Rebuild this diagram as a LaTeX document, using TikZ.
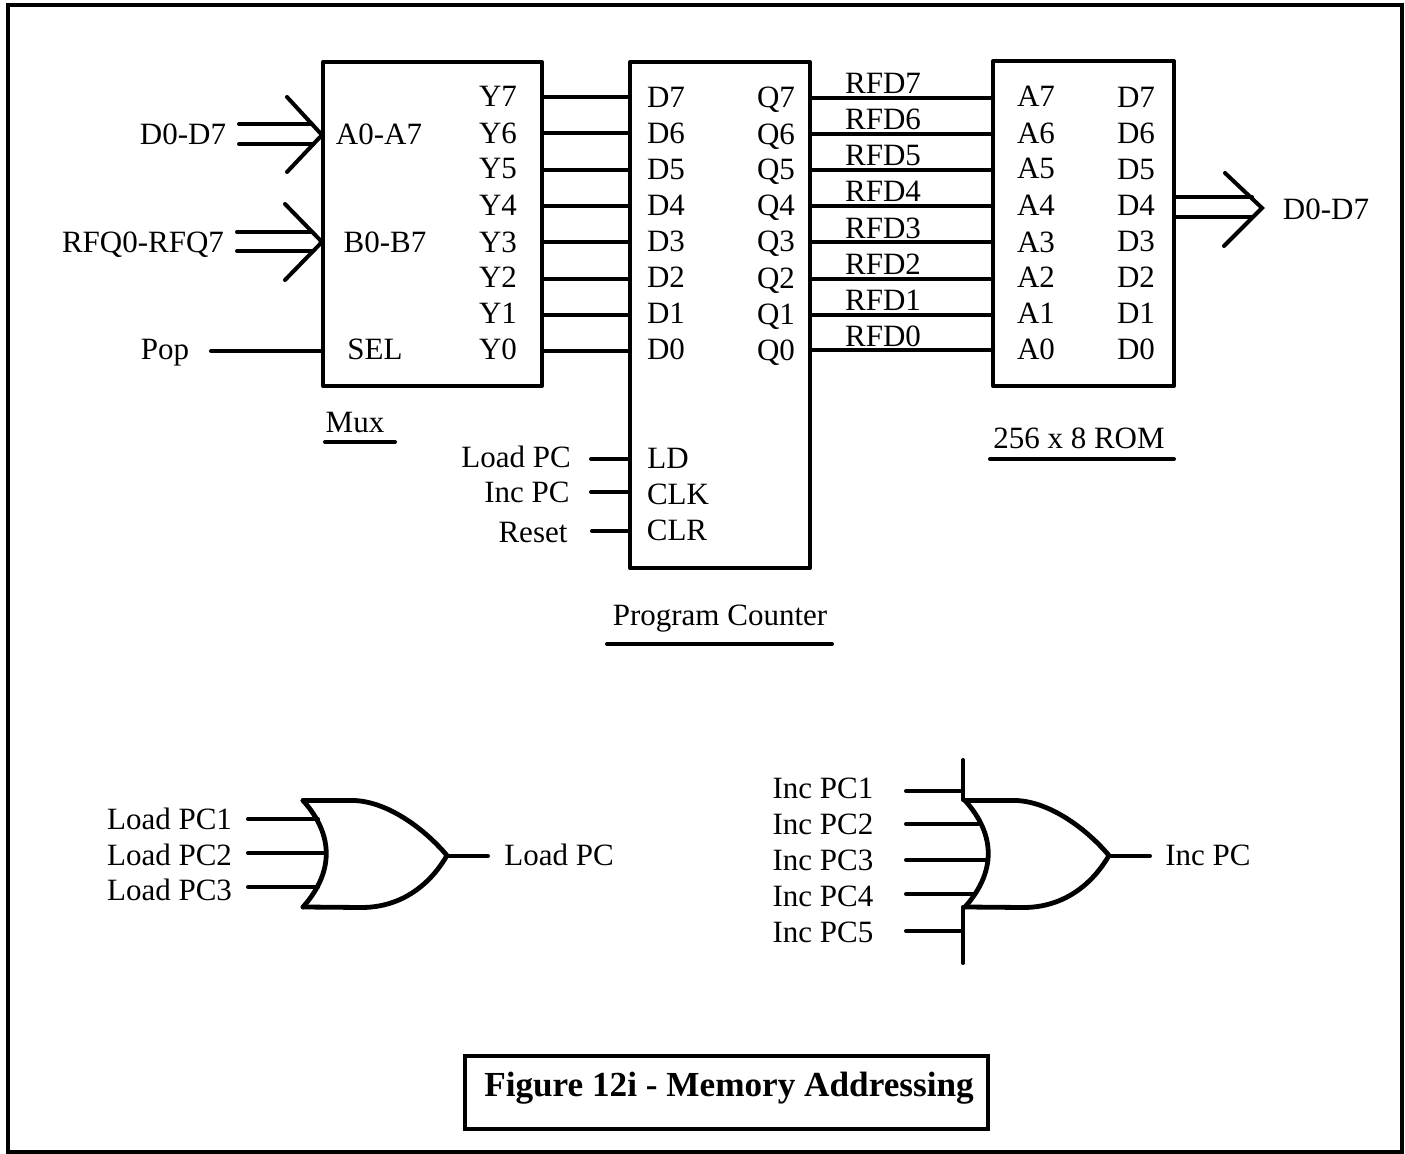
\documentclass[tikz,border=0pt]{standalone}
\usepackage{fontspec}
\setmainfont{Liberation Serif}
\tikzset{
  wire/.style = {line width=2pt,line cap=round},
  gateline/.style = {line width=2.4pt,line cap=round,line join=round},
  chip/.style = {draw,line width=2pt,line join=round,inner sep=0pt,outer sep=0pt},
  lbl/.style = {inner sep=0pt,outer sep=0pt,text height=10.2pt,text depth=0pt,font=\fontsize{15.5}{18}\selectfont}
}

\begin{document}
\begin{tikzpicture}[x=0.5pt,y=-0.5pt]
  \useasboundingbox (0,0) rectangle (1405,1154);
  \draw[line width=2pt] (8,5) rectangle (1402,1152);
  % the three boxes
  \node[chip,minimum width=109.5pt,minimum height=162pt] (mux) at (432.5,224) {};
  \node[chip,minimum width=90pt,minimum height=253pt] (pc) at (720,315) {};
  \node[chip,minimum width=90.5pt,minimum height=162.5pt] (rom) at (1083.5,223.5) {};
  % pins
  \foreach \n/\Y/\Q in {7/97/98,6/133/134,5/170/170,4/206/206,3/242/242,2/279/279,1/315/315,0/351/350} {
    \coordinate (yout\n) at (542,\Y);
    \coordinate (dpin\n) at (630,\Y);
    \coordinate (qout\n) at (810,\Q);
    \coordinate (apin\n) at (993,\Q);
    \draw[wire] (yout\n) -- (dpin\n);
    \draw[wire] (qout\n) -- (apin\n);
  }
  \foreach \n/\Y in {7/96,6/133,5/168,4/205,3/242,2/277,1/313,0/349} {
    \node[lbl] (ylab\n) at (498,\Y) {Y\n};
    \node[lbl] (alab\n) at (1036,\Y) {A\n};
  }
  \foreach \n/\Y/\Z in {7/97/97,6/133/134,5/169/169,4/205/205,3/241/241,2/277/278,1/313/314,0/349/350} {
    \node[lbl] (dlab\n) at (666,\Y) {D\n};
    \node[lbl] (qlab\n) at (776,\Z) {Q\n};
    \node[lbl] (rlab\n) at (1136,\Y) {D\n};
  }
  \foreach \n/\Y in {7/83,6/119,5/155,4/191,3/228,2/264,1/300,0/336} {
    \node[lbl] (rfd\n) at (883,\Y) {RFD\n};
  }
  % mux inputs
  \node[lbl] (a07) at (379,134) {A0-A7};
  \node[lbl] (b07) at (385,242) {B0-B7};
  \node[lbl] (sel) at (375,349) {SEL};
  \node[lbl] (din) at (183,134) {D0-D7};
  \node[lbl] (rfq) at (143,242) {RFQ0-RFQ7};
  \node[lbl] (pop) at (165,349) {Pop};
  \coordinate (dtip) at (322,135);
  \coordinate (rtip) at (322,242);
  \draw[wire] (287,97) -- (dtip) -- (287,172);
  \draw[wire] (239,124) -- (312,124);
  \draw[wire] (239,144) -- (312,144);
  \draw[wire] (285,204) -- (rtip) -- (285,280);
  \draw[wire] (237,232) -- (312,232);
  \draw[wire] (237,251) -- (312,251);
  \coordinate (popin) at (211,351);
  \draw[wire] (popin) -- (mux.west |- popin);
  % rom output
  \node[lbl] (dout) at (1326,209) {D0-D7};
  \coordinate (otip) at (1262,208);
  \draw[wire] (1225,173) -- (otip) -- (1224,246);
  \draw[wire] (rom.east |- 0,197) -- (1252,197);
  \draw[wire] (rom.east |- 0,217) -- (1252,217);
  % counter controls
  \node[lbl] (ldin) at (516,457) {Load PC};
  \node[lbl] (incin) at (527,492) {Inc PC};
  \node[lbl] (rstin) at (533,532) {Reset};
  \node[lbl] (ld) at (668,458) {LD};
  \node[lbl] (clk) at (678,494) {CLK};
  \node[lbl] (clr) at (677,530) {CLR};
  \foreach \c/\X/\Y in {ldc/591/459,incc/591/492,rstc/592/531} {
    \coordinate (\c) at (\X,\Y);
    \draw[wire] (\c) -- (pc.west |- \c);
  }
  % titles
  \node[lbl] (muxt) at (355,422) {Mux};
  \node[lbl] (romt) at (1079,438) {256 x 8 ROM};
  \node[lbl] (pct) at (720,615) {Program Counter};
  \draw[wire] (325,442) -- (395,442);
  \draw[wire] (990,459) -- (1174,459);
  \draw[wire] (607,644) -- (832,644);
  % or gates
  \foreach \S in {0,662} {
    \begin{scope}[xshift=\S*0.5pt]
      \draw[gateline] (303,800.5) -- (353,800.5) .. controls (385,801) and (422,826) .. (447,855.5)
        .. controls (428,888) and (398,908) .. (360,907.5) -- (303,907);
      \draw[gateline] (303,800.5) .. controls (334,835) and (334,872) .. (303,907);
      \coordinate (tip\S) at (447,856);
      \coordinate (out\S) at (488,856);
      \draw[wire] (tip\S) -- (out\S);
    \end{scope}
  }
  \foreach \n/\Y/\L/\E in {1/819/819/318,2/855/853/325,3/890/887/318} {
    \node[lbl] (lpc\n) at (169.5,\Y) {Load PC\n};
    \coordinate (lin\n) at (248,\L);
    \coordinate (lend\n) at (\E,\L);
    \draw[wire] (lin\n) -- (lend\n);
  }
  \node[lbl] (lpc) at (559,855) {Load PC};
  \foreach \n/\Y/\L/\E in {1/788/791/963,2/824/824/978,3/860/860/986,4/896/894/975,5/932/931/963} {
    \node[lbl] (ipc\n) at (823,\Y) {Inc PC\n};
    \coordinate (iin\n) at (906,\L);
    \coordinate (iend\n) at (\E,\L);
    \draw[wire] (iin\n) -- (iend\n);
  }
  \node[lbl] (ipc) at (1208,855) {Inc PC};
  \draw[wire] (963,760) -- (963,800);
  \draw[wire] (963,907) -- (963,963);
  % caption
  \node[draw,line width=2.2pt,minimum width=261.5pt,minimum height=36.5pt,inner sep=0pt,outer sep=0pt] (cap) at (726.5,1092.5) {};
  \node[inner sep=0pt,text height=11.6pt,text depth=0pt,font=\fontsize{17.6}{20}\selectfont\bfseries] (captext) at (729,1085) {Figure 12i - Memory Addressing};
\end{tikzpicture}
\end{document}
